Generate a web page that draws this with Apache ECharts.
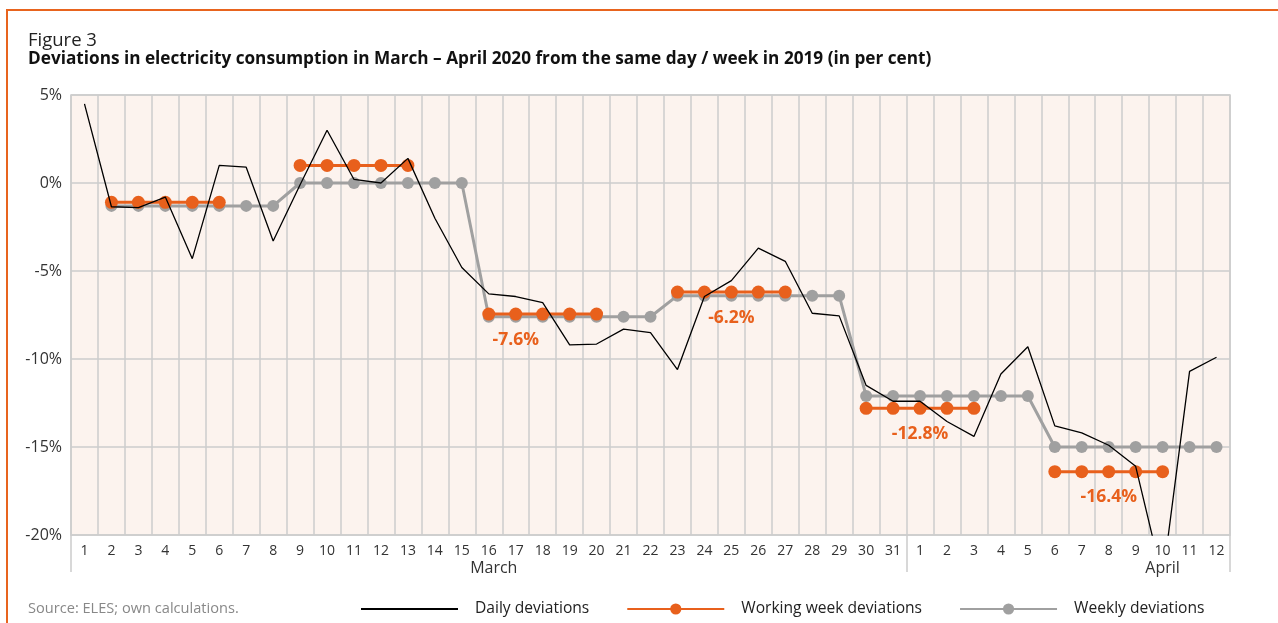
<!DOCTYPE html>
<html>
<head>
<meta charset="utf-8">
<script src="https://cdn.jsdelivr.net/npm/echarts@6/dist/echarts.min.js"></script>
<style>
  html, body { margin: 0; padding: 0; background: #fff; }
  #frame { position: absolute; left: 6px; top: 9px; width: 1272px; height: 614px;
           border-left: 2px solid #E8641E; border-top: 2px solid #E8641E; }
  #main { position: absolute; left: 0; top: 0; width: 1278px; height: 623px; }
</style>
</head>
<body>
<div id="frame"></div>
<div id="main"></div>
<script>
// days: 1..31 March, 1..12 April
var days = ['1','2','3','4','5','6','7','8','9','10','11','12','13','14','15','16','17','18','19','20',
            '21','22','23','24','25','26','27','28','29','30','31',
            '1','2','3','4','5','6','7','8','9','10','11','12'];

// daily deviations (%)
var daily = [4.5, -1.35, -1.4, -0.8, -4.3, 1.0, 0.9, -3.3, -0.1, 3.0, 0.2, 0.0, 1.4, -2.0, -4.8,
             -6.3, -6.45, -6.8, -9.2, -9.15, -8.3, -8.5, -10.6, -6.45, -5.55, -3.7, -4.45, -7.4, -7.55,
             -11.5, -12.4,
             -12.4, -13.55, -14.4, -10.85, -9.3, -13.8, -14.2, -14.9, -16.1, -22.5, -10.7, -9.9];

// working week deviations (%), weekends empty
var workWeek = [null, -1.1, -1.1, -1.1, -1.1, -1.1, null, null, 1.0, 1.0, 1.0, 1.0, 1.0, null, null,
                -7.45, -7.45, -7.45, -7.45, -7.45, null, null, -6.2, -6.2, -6.2, -6.2, -6.2, null, null,
                -12.8, -12.8,
                -12.8, -12.8, -12.8, null, null, -16.4, -16.4, -16.4, -16.4, -16.4, null, null];

// weekly deviations (%)
var weekly = [null, -1.3, -1.3, -1.3, -1.3, -1.3, -1.3, -1.3, 0, 0, 0, 0, 0, 0, 0,
              -7.6, -7.6, -7.6, -7.6, -7.6, -7.6, -7.6, -6.4, -6.4, -6.4, -6.4, -6.4, -6.4, -6.4,
              -12.1, -12.1,
              -12.1, -12.1, -12.1, -12.1, -12.1, -15, -15, -15, -15, -15, -15, -15];

// labelled points of the working week line
var labelIdx = [16, 24, 31, 38];
var labelTxt = ['-7.6%', '-6.2%', '-12.8%', '-16.4%'];

// month names under the day labels
var monthAt = {15: '{m|March}', 40: '{a|April}'};
var monthStart = [0, 31];

var yTicks = [5, 0, -5, -10, -15, -20];

var orange = '#E8601C';
var grey = '#A0A0A0';
var font = 'Open Sans';

var workData = workWeek.map(function (v, i) {
    var k = labelIdx.indexOf(i);
    if (k < 0) return v;
    return {
        value: v,
        label: {
            show: true, position: 'bottom', distance: 10,
            formatter: labelTxt[k], color: orange, fontWeight: 'bold',
            fontSize: 17.5, fontFamily: font
        }
    };
});

var myChart = echarts.init(document.getElementById('main'));

var option = {
    backgroundColor: 'transparent',
    animation: false,
    title: [
        { text: 'Figure 3', left: 23, top: 26,
          textStyle: { fontFamily: font, fontWeight: 'normal', fontSize: 18.5, color: '#222' } },
        { text: 'Deviations in electricity consumption in March \u2013 April 2020 from the same day / week in 2019 (in per cent)',
          left: 23, top: 46,
          textStyle: { fontFamily: font, fontWeight: 'bold', fontSize: 17.2, color: '#111' } },
        { text: 'Source: ELES; own calculations.', left: 23, top: 596,
          textStyle: { fontFamily: font, fontWeight: 'normal', fontSize: 14.6, color: '#888' } }
    ],
    legend: {
        left: 360, top: 601, padding: 0,
        itemWidth: 97, itemHeight: 14, itemGap: 37,
        textStyle: { fontFamily: font, fontSize: 15.6, color: '#222', padding: [0, 0, 0, 12] },
        data: [
            { name: 'Daily deviations', itemStyle: { color: 'rgba(0,0,0,0)', borderWidth: 0 } },
            'Working week deviations',
            'Weekly deviations'
        ]
    },
    grid: { left: 71, right: 48, top: 95, bottom: 88, show: true,
            backgroundColor: '#FCF3EE', borderColor: '#CCCCCC', borderWidth: 1.5 },
    xAxis: [
        {
            type: 'category', data: days, boundaryGap: true,
            axisLine: { show: false },
            axisTick: { show: false },
            axisLabel: { fontFamily: font, fontSize: 14, color: '#333', margin: 9, interval: 0 },
            splitLine: { show: true, lineStyle: { color: '#CCCCCC', width: 1.5 } }
        },
        {
            type: 'category', data: days, boundaryGap: true, position: 'bottom',
            axisLine: { show: false },
            axisTick: { show: true, length: 37, interval: function (i) { return monthStart.indexOf(i) >= 0; },
                        lineStyle: { color: '#CCCCCC', width: 1.5 } },
            axisLabel: { fontFamily: font, fontSize: 16, color: '#333', margin: 25, interval: 0,
                         rich: {
                             m: { fontFamily: font, fontSize: 16, color: '#333', padding: [0, 0, 0, 10] },
                             a: { fontFamily: font, fontSize: 16, color: '#333' }
                         },
                         formatter: function (v, i) { return monthAt[i] || ''; } },
            splitLine: { show: false }
        }
    ],
    yAxis: {
        type: 'value', min: -20, max: 5, interval: 5,
        axisLine: { show: false },
        axisTick: { show: false },
        axisLabel: { fontFamily: font, fontSize: 16, color: '#333', margin: 9,
                     formatter: function (v) { return yTicks.indexOf(v) >= 0 ? v + '%' : ''; } },
        splitLine: { lineStyle: { color: '#CCCCCC', width: 1.5 } }
    },
    series: [
        {
            name: 'Daily deviations', type: 'line', data: daily,
            showSymbol: false, symbol: 'none', clip: true,
            lineStyle: { color: '#000', width: 1.3 }, itemStyle: { color: '#000' }, z: 4
        },
        {
            name: 'Weekly deviations', type: 'line', data: weekly,
            symbol: 'circle', symbolSize: 12, connectNulls: false,
            lineStyle: { color: grey, width: 3 }, itemStyle: { color: grey }, z: 2
        },
        {
            name: 'Working week deviations', type: 'line', data: workData,
            symbol: 'circle', symbolSize: 13,
            lineStyle: { color: orange, width: 3 }, itemStyle: { color: orange }, z: 3
        }
    ]
};

myChart.setOption(option, true);
</script>
</body>
</html>
